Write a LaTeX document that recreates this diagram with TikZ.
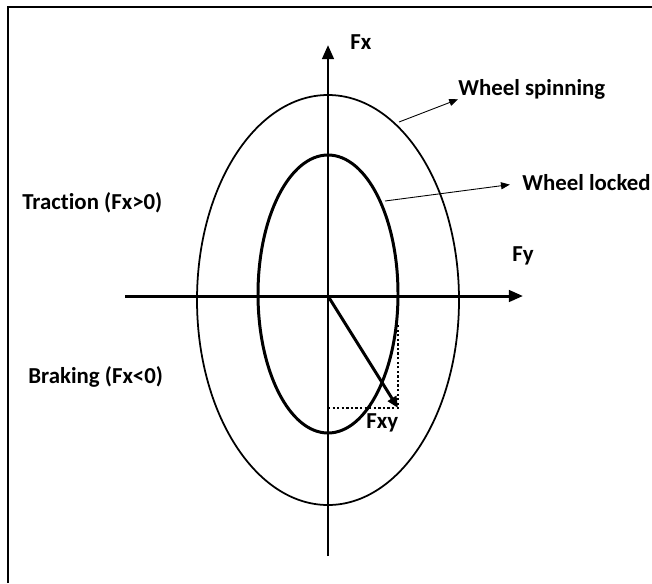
\documentclass[tikz,border=0pt]{standalone}
\usepackage{fontspec}
\setmainfont{Carlito}
\usetikzlibrary{arrows.meta,positioning}

\begin{document}
\begin{tikzpicture}[x=0.02cm,y=-0.02cm,every node/.style={font=\bfseries\fontsize{13}{15}\selectfont,inner sep=0pt,anchor=west},axis/.style={line width=1.7pt,-{Triangle[length=8pt,width=6.5pt]}},ptr/.style={line width=0.5pt,-{Triangle[length=5pt,width=4pt]}},ring/.style={draw,line width=1pt},hint/.style={line width=1.1pt,dash pattern=on 1.3pt off 1.3pt}]
\useasboundingbox (0,0) rectangle (652,583);
\draw[line width=0.8pt] (8,583) -- (8,7) -- (652,7);
% axes
\coordinate (o) at (328,296);
\coordinate (ybot) at (328,556);
\coordinate (ytop) at (328,45);
\coordinate (xleft) at (125,296);
\coordinate (xright) at (523,296);
\draw[axis] (ybot) -- (ytop);
\draw[axis] (xleft) -- (xright);
% friction ellipses
\draw[ring] (328,300) ellipse [x radius=131,y radius=205];
\draw[ring,line width=1.7pt] (328,294) ellipse [x radius=70,y radius=139];
% labels
\node (fx) at (350,42) {Fx};
\node (fy) at (512,256) {Fy};
\node (spin) at (458,89) {Wheel spinning};
\node (locked) at (522,183) {Wheel locked};
\node (traction) at (22,203) {Tract\kern0pt ion (Fx>0)};
\node (braking) at (28,377) {Braking (Fx<0)};
\node (fxy) at (366,423) {Fxy};
\coordinate (spinpt) at (399,122);
\coordinate (lockpt) at (385,201);
\draw[ptr] (spinpt) -- (spin.south west);
\draw[ptr,shorten >=7pt] (lockpt) -- (locked.west);
% resultant force
\coordinate (tip) at (398,408);
\coordinate (tipx) at (328,408);
\coordinate (tipy) at (398,323);
\draw[hint] (tipx) -- (tip) -- (tipy);
\draw[axis,-{Triangle[length=6.5pt,width=5.5pt]}] (o) -- (tip);
\end{tikzpicture}
\end{document}
